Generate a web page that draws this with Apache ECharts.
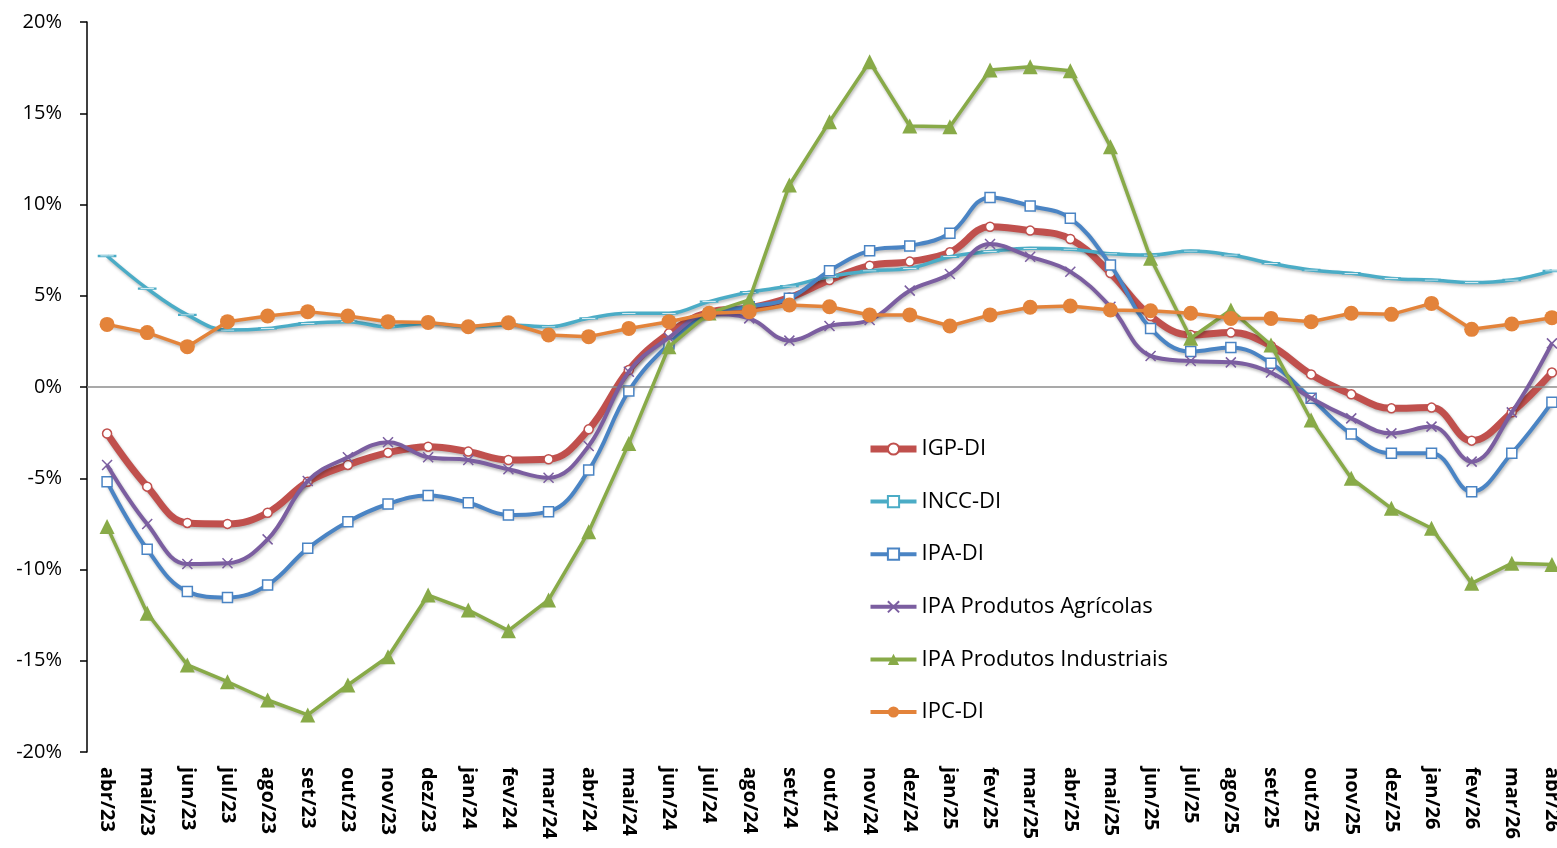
<!DOCTYPE html>
<html>
<head>
<meta charset="utf-8">
<script src="https://cdn.jsdelivr.net/npm/echarts@6/dist/echarts.min.js"></script>
<style>
html,body{margin:0;padding:0;background:#fff;overflow:hidden;width:1557px;height:848px;}
#chart{width:1572px;height:848px;}
</style>
</head>
<body>
<div id="chart"></div>
<script>
const categories = ['abr/23','mai/23','jun/23','jul/23','ago/23','set/23','out/23','nov/23','dez/23','jan/24','fev/24','mar/24','abr/24','mai/24','jun/24','jul/24','ago/24','set/24','out/24','nov/24','dez/24','jan/25','fev/25','mar/25','abr/25','mai/25','jun/25','jul/25','ago/25','set/25','out/25','nov/25','dez/25','jan/26','fev/26','mar/26','abr/26'];

const igpDI = [-2.55,-5.46,-7.45,-7.50,-6.89,-5.19,-4.27,-3.60,-3.27,-3.54,-4.00,-3.96,-2.32,0.93,2.94,4.10,4.33,4.90,5.86,6.65,6.87,7.38,8.78,8.57,8.11,6.24,3.89,2.85,2.98,2.25,0.69,-0.40,-1.17,-1.13,-2.94,-1.39,0.79];
const inccDI = [7.18,5.39,3.95,3.12,3.21,3.49,3.58,3.30,3.49,3.30,3.40,3.30,3.76,4.04,4.04,4.68,5.19,5.53,6.05,6.36,6.50,7.14,7.42,7.60,7.55,7.30,7.23,7.45,7.23,6.78,6.41,6.23,5.95,5.86,5.72,5.86,6.36];
const ipaDI = [-5.19,-8.89,-11.21,-11.53,-10.85,-8.84,-7.38,-6.41,-5.95,-6.34,-7.01,-6.83,-4.55,-0.22,2.35,4.00,4.40,4.86,6.37,7.47,7.73,8.42,10.39,9.92,9.24,6.68,3.21,1.94,2.17,1.30,-0.62,-2.58,-3.63,-3.63,-5.74,-3.63,-0.84];
const ipaAgricolas = [-4.27,-7.51,-9.70,-9.66,-8.35,-5.15,-3.85,-3.03,-3.85,-4.00,-4.51,-4.97,-3.23,0.84,2.70,4.00,3.76,2.54,3.34,3.67,5.28,6.19,7.84,7.14,6.32,4.40,1.70,1.42,1.35,0.79,-0.62,-1.72,-2.54,-2.17,-4.09,-1.39,2.39];
const ipaIndustriais = [-7.65,-12.40,-15.23,-16.15,-17.15,-17.97,-16.33,-14.78,-11.40,-12.22,-13.35,-11.67,-7.93,-3.09,2.21,4.05,4.77,11.07,14.54,17.82,14.30,14.26,17.37,17.55,17.33,13.17,7.05,2.67,4.22,2.30,-1.81,-5.00,-6.65,-7.74,-10.76,-9.66,-9.72];
const ipcDI = [3.43,2.98,2.21,3.58,3.89,4.13,3.89,3.58,3.54,3.30,3.52,2.85,2.76,3.21,3.58,4.04,4.13,4.49,4.40,3.95,3.95,3.34,3.95,4.37,4.44,4.22,4.18,4.04,3.76,3.76,3.58,4.04,3.98,4.58,3.16,3.45,3.80];

const seriesNames = ['IGP-DI','INCC-DI','IPA-DI','IPA Produtos Agrícolas','IPA Produtos Industriais','IPC-DI'];
const yTicks = {min:-20, max:20, interval:5};

const FONT = '"Open Sans", Lato, sans-serif';
const shadow = {shadowColor:'rgba(0,0,0,0.28)', shadowBlur:3, shadowOffsetX:1, shadowOffsetY:2};

const C = {igp:'#C0504D', incc:'#4BACC6', ipa:'#4A84C4', agr:'#7B5EA0', ind:'#88AA48', ipc:'#E3833A'};

const chart = echarts.init(document.getElementById('chart'), null, {renderer:'canvas'});

chart.setOption({
  animation:false,
  backgroundColor:'#fff',
  grid:{left:87, top:22, bottom:96, right:0, containLabel:false},
  legend:{
    orient:'vertical', left:862, top:432, padding:5,
    itemWidth:46, itemHeight:14, itemGap:28.6,
    textStyle:{fontFamily:FONT, fontSize:22, lineHeight:24, color:'#000'},
    data:[
      {name:seriesNames[0], lineStyle:{width:7, color:C.igp}},
      {name:seriesNames[1], lineStyle:{width:4, color:C.incc}},
      {name:seriesNames[2], lineStyle:{width:4, color:C.ipa}},
      {name:seriesNames[3], lineStyle:{width:4, color:C.agr}},
      {name:seriesNames[4], lineStyle:{width:4, color:C.ind}},
      {name:seriesNames[5], lineStyle:{width:4, color:C.ipc}}
    ]
  },
  xAxis:{
    type:'category', data:categories, boundaryGap:true,
    axisLine:{show:false}, axisTick:{show:false},
    axisLabel:{rotate:-90, interval:0, margin:15, fontFamily:FONT, fontSize:20, fontWeight:'bold', color:'#000'}
  },
  yAxis:{
    type:'value', min:yTicks.min, max:yTicks.max, interval:yTicks.interval,
    splitLine:{show:false},
    axisLine:{show:true, lineStyle:{color:'#000', width:1.5}},
    axisTick:{show:true, inside:false, length:7, lineStyle:{color:'#000', width:1.5}},
    axisLabel:{formatter:'{value}%', fontFamily:FONT, fontSize:20, color:'#000', margin:25}
  },
  series:[
    {
      name:seriesNames[0], type:'line', data:igpDI, smooth:0.4,
      symbol:'circle', symbolSize:9, z:2,
      lineStyle:Object.assign({color:C.igp, width:7}, shadow),
      itemStyle:{color:'#fff', borderColor:C.igp, borderWidth:1.5},
      markLine:{silent:true, symbol:'none', label:{show:false}, animation:false,
        lineStyle:{color:'#8c8c8c', width:1.5, type:'solid'}, data:[{yAxis:0}]}
    },
    {
      name:seriesNames[1], type:'line', data:inccDI, smooth:0.4,
      symbol:'path://M0,0H16V5H0Z', symbolSize:[16,5], symbolKeepAspect:true, z:3,
      lineStyle:Object.assign({color:C.incc, width:3.5}, shadow),
      itemStyle:{color:'#fff', borderColor:C.incc, borderWidth:1.5}
    },
    {
      name:seriesNames[2], type:'line', data:ipaDI, smooth:0.4,
      symbol:'rect', symbolSize:10, z:4,
      lineStyle:Object.assign({color:C.ipa, width:4}, shadow),
      itemStyle:{color:'#fff', borderColor:C.ipa, borderWidth:1.5}
    },
    {
      name:seriesNames[3], type:'line', data:ipaAgricolas, smooth:0.4,
      symbol:'path://M0,0L10,10M10,0L0,10', symbolSize:10, z:5,
      lineStyle:Object.assign({color:C.agr, width:4}, shadow),
      itemStyle:{color:'#fff', borderColor:C.agr, borderWidth:1.5}
    },
    {
      name:seriesNames[4], type:'line', data:ipaIndustriais, smooth:false,
      symbol:'triangle', symbolSize:15, z:6,
      lineStyle:Object.assign({color:C.ind, width:3.5}, shadow),
      itemStyle:{color:C.ind}
    },
    {
      name:seriesNames[5], type:'line', data:ipcDI, smooth:false,
      symbol:'circle', symbolSize:15, z:7,
      lineStyle:Object.assign({color:C.ipc, width:3.5}, shadow),
      itemStyle:{color:C.ipc}
    }
  ]
});
</script>
</body>
</html>
